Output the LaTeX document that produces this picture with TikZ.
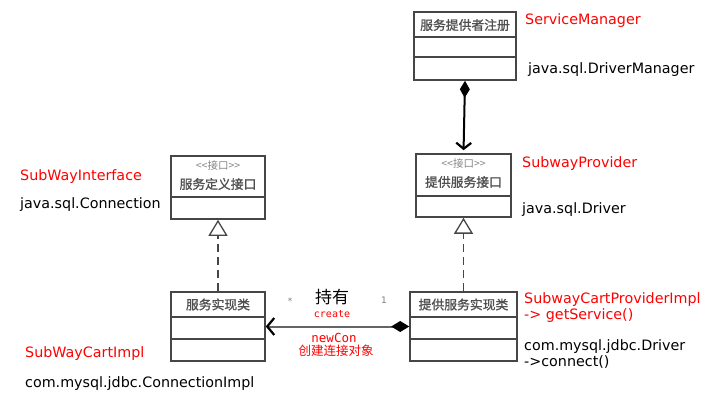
\documentclass[tikz,border=0pt]{standalone}
\usepackage{fontspec}
\setmainfont{DejaVu Sans}
\newfontfamily\cjk{Noto Sans CJK SC}
\newfontfamily\cjkb[FakeBold=1.2]{Noto Sans CJK SC}
\newfontfamily\monof{DejaVu Sans Mono}
\usetikzlibrary{arrows.meta}
\definecolor{boxline}{RGB}{70,70,70}
\definecolor{hdr}{RGB}{80,80,80}
\definecolor{lblred}{RGB}{255,0,0}
\definecolor{assoc}{RGB}{100,100,100}
\begin{document}
\begin{tikzpicture}[x=1pt,y=-1pt,
  umlbox/.style={draw=boxline,line width=1.6pt,rectangle,inner sep=0pt,fill=white},
  sep/.style={draw=boxline,line width=1.6pt},
  hdrtext/.style={font=\cjkb\fontsize{12.8}{14}\selectfont,text=hdr,inner sep=0pt},
  stereo/.style={font=\cjk\fontsize{10.5}{12}\selectfont,text=hdr!70,inner sep=0pt},
  redlbl/.style={font=\fontsize{14.3}{16}\selectfont,text=lblred,anchor=base west,inner sep=0pt},
  blklbl/.style={font=\fontsize{14.3}{16}\selectfont,text=black,anchor=base west,inner sep=0pt},
  smallred/.style={text=lblred,inner sep=0pt},
  realize/.style={draw=boxline,line width=1.5pt,dash pattern=on 8pt off 5pt,
    -{Triangle[open,length=16pt,width=19pt,fill=white,line width=1.3pt]}},
  compo/.style={draw=black,line width=2pt,
    {Diamond[length=17pt,width=10pt]}-{Straight Barb[length=6pt,width=15pt,line width=2.2pt]}},
  assocl/.style={draw=assoc,line width=2pt,
    {Straight Barb[length=7pt,width=17pt,line width=2.2pt,color=black]}-{Diamond[length=18pt,width=11pt,color=black]}}
]
\useasboundingbox[fill=white] (0,0) rectangle (712,406);

% ServiceManager box
\node[umlbox,minimum width=102pt,minimum height=68pt] (SM) at (465,46) {};
\draw[sep] (SM.west |- 0,37) -- (SM.east |- 0,37);
\draw[sep] (SM.west |- 0,57) -- (SM.east |- 0,57);
\node[hdrtext] (SMh) at (465,25) {服务提供者注册};

% Interface box
\node[umlbox,minimum width=94pt,minimum height=63pt] (IF) at (218,187.5) {};
\draw[sep] (IF.west |- 0,197) -- (IF.east |- 0,197);
\node[stereo] (IFs) at (218,166) {<<接口>>};
\node[hdrtext] (IFh) at (218,184) {服务定义接口};

% Provider box
\node[umlbox,minimum width=95pt,minimum height=63pt] (PR) at (463.5,185.5) {};
\draw[sep] (PR.west |- 0,196) -- (PR.east |- 0,196);
\node[stereo] (PRs) at (463.5,164) {<<接口>>};
\node[hdrtext] (PRh) at (463.5,182) {提供服务接口};

% Impl box
\node[umlbox,minimum width=94pt,minimum height=69pt] (IM) at (218,326.5) {};
\draw[sep] (IM.west |- 0,317) -- (IM.east |- 0,317);
\draw[sep] (IM.west |- 0,339) -- (IM.east |- 0,339);
\node[hdrtext] (IMh) at (218,304.5) {服务实现类};

% Provider impl box
\node[umlbox,minimum width=107pt,minimum height=69pt] (PI) at (463.5,326.5) {};
\draw[sep] (PI.west |- 0,317) -- (PI.east |- 0,317);
\draw[sep] (PI.west |- 0,339) -- (PI.east |- 0,339);
\node[hdrtext] (PIh) at (463.5,304.5) {提供服务实现类};

% connectors
\draw[compo,shorten >=3pt] (SM.south) -- (PR.north);
\draw[realize] (IM.north) -- (IF.south);
\draw[realize] (PI.north) -- (PR.south);
\draw[assocl] (IM.east) -- (PI.west);

% association labels
\node[font=\fontsize{9}{10}\selectfont,text=gray] (mstar) at (290,301) {*};
\node[font=\fontsize{9}{10}\selectfont,text=gray] (mone) at (384,300) {1};
\node[font=\cjk\fontsize{17}{19}\selectfont,inner sep=0pt] (hold) at (332,297) {持有};
\node[smallred,font=\monof\fontsize{10}{12}\selectfont] (create) at (332,314) {create};
\node[smallred,font=\monof\fontsize{12.5}{14}\selectfont] (newcon) at (334,338) {newCon};
\node[smallred,font=\cjk\fontsize{12.5}{14}\selectfont] (cjdx) at (336,351) {创建连接对象};

% side labels
\node[redlbl] (l1) at (525,25) {ServiceManager};
\node[blklbl] (l2) at (528,74) {java.sql.DriverManager};
\node[redlbl] (l3) at (20,181) {SubWayInterface};
\node[blklbl] (l4) at (20,208) {java.sql.Connection};
\node[redlbl] (l5) at (522,168) {SubwayProvider};
\node[blklbl] (l6) at (522,214) {java.sql.Driver};
\node[redlbl] (l7) at (524,303) {SubwayCartProviderImpl};
\node[redlbl] (l8) at (524,319) {-> getService()};
\node[blklbl] (l9) at (524,350) {com.mysql.jdbc.Driver};
\node[blklbl] (l10) at (524,366) {->connect()};
\node[redlbl] (l11) at (25,357) {SubWayCartImpl};
\node[blklbl] (l12) at (25,387) {com.mysql.jdbc.ConnectionImpl};
\end{tikzpicture}
\end{document}
